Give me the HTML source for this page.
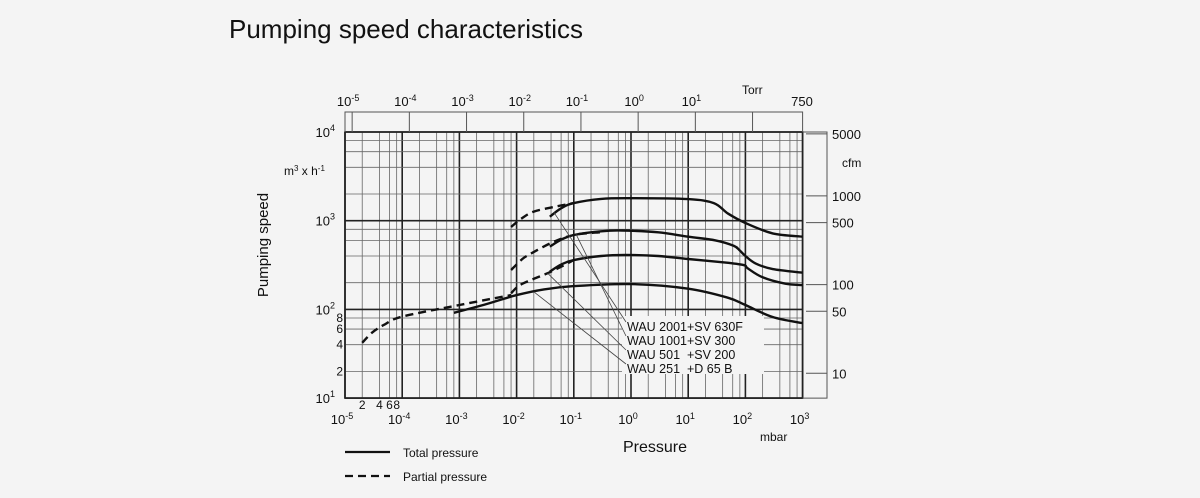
<!DOCTYPE html>
<html><head><meta charset="utf-8"><style>
body{margin:0;background:#f4f4f4;}
svg{display:block;font-family:"Liberation Sans",sans-serif;}
</style></head><body>
<svg width="1200" height="498" viewBox="0 0 1200 498">
<rect x="0" y="0" width="1200" height="498" fill="#f4f4f4"/>
<text x="229" y="38" font-size="26" fill="#111">Pumping speed characteristics</text>
<g id="grid"></g>
<g id="axes"></g>
<g id="series"></g>
<g id="labels"></g>
<text x="268" y="245" font-size="15" transform="rotate(-90 268 245)" text-anchor="middle" fill="#111">Pumping speed</text>
<text x="284" y="175" font-size="12" fill="#111">m<tspan font-size="8" dy="-4">3</tspan><tspan dy="4"> x h</tspan><tspan font-size="8" dy="-4">-1</tspan></text>
<text x="842" y="167" font-size="12" fill="#111">cfm</text>
<text x="742" y="94" font-size="12" fill="#111">Torr</text>
<text x="623" y="452" font-size="16" fill="#111">Pressure</text>
<text x="760" y="441" font-size="12" fill="#111">mbar</text>
<g>
<line x1="345" y1="452" x2="390" y2="452" stroke="#111" stroke-width="2.2"/>
<text x="403" y="457" font-size="12" fill="#111">Total pressure</text>
<line x1="345" y1="476" x2="390" y2="476" stroke="#111" stroke-width="2.2" stroke-dasharray="8,5"/>
<text x="403" y="481" font-size="12" fill="#111">Partial pressure</text>
</g>
</svg>
<script>
const xDecades=[-5,-4,-3,-2,-1,0,1,2,3];
const yDecades=[1,2,3,4];
const torrDecades=[-5,-4,-3,-2,-1,0,1];
const cfmTicks=[5000,1000,500,100,50,10];
const leftMinorLabels=[8,6,4,2];
const bottomMinorLabels=[2,4,6,8];
const seriesNames=["WAU 2001+SV 630F","WAU 1001+SV 300","WAU 501  +SV 200","WAU 251  +D 65 B"];
// total pressure curves [mbar, m3/h]
const total2001=[[0.038,1110],[0.06,1380],[0.1,1580],[0.3,1760],[1,1795],[10,1750],[28,1580],[50,1200],[100,942],[300,720],[1000,660]];
const total1001=[[0.038,510],[0.06,610],[0.1,690],[0.3,760],[0.7,775],[3,740],[10,660],[30,600],[63,520],[80,460],[100,400],[150,330],[300,285],[1000,259]];
const total501=[[0.038,266],[0.06,320],[0.1,360],[0.3,400],[0.8,410],[3,400],[10,370],[50,335],[95,315],[110,290],[200,230],[500,195],[1000,188]];
const total251=[[0.0008,91.5],[0.003,115],[0.01,145],[0.03,168],[0.1,183],[1,193],[10,171],[50,135],[100,112],[300,82],[1000,70]];
// partial pressure curves
const partial2001=[[0.008,850],[0.012,1050],[0.02,1265],[0.05,1450],[0.1,1580]];
const partial1001=[[0.008,278],[0.012,360],[0.016,410],[0.04,560],[0.1,690],[0.29,740]];
const partial501=[[0.008,152],[0.011,185],[0.018,215],[0.04,266],[0.1,360]];
const partial251=[[2e-5,42],[3e-5,55],[5e-5,68],[1e-4,83],[1e-3,112],[0.008,145]];
const ns="http://www.w3.org/2000/svg";
const X0=345,DX=57.2,Y0=132,DY=88.7;
function xs(v){return X0+(Math.log10(v)+5)*DX;}
function ys(v){return Y0+(4-Math.log10(v))*DY;}
function mk(tag,attrs,parent){const e=document.createElementNS(ns,tag);for(const k in attrs)e.setAttribute(k,attrs[k]);parent.appendChild(e);return e;}
const grid=document.getElementById('grid'),axes=document.getElementById('axes'),ser=document.getElementById('series'),lab=document.getElementById('labels');
const XR=xs(1000),YB=ys(10);
xDecades.forEach(d=>{
  const x=xs(Math.pow(10,d));
  const l=mk('line',{x1:x,y1:Y0,x2:x,y2:YB,stroke:'#222','stroke-width':1.6},grid);
  
  
  if(d<3)[2,4,6,8].forEach(m=>{
    const xm=xs(m*Math.pow(10,d));
    const g=mk('line',{x1:xm,y1:Y0,x2:xm,y2:YB,stroke:'#666','stroke-width':0.8},grid);
    
    
  });
});
yDecades.forEach(d=>{
  const y=ys(Math.pow(10,d));
  const l=mk('line',{x1:X0,y1:y,x2:XR,y2:y,stroke:'#222','stroke-width':1.6},grid);
  
  
  if(d<4)[2,4,6,8].forEach(m=>{
    const ym=ys(m*Math.pow(10,d));
    const g=mk('line',{x1:X0,y1:ym,x2:XR,y2:ym,stroke:'#666','stroke-width':0.8},grid);
    
    
  });
});
const frame=mk('rect',{x:X0,y:Y0,width:XR-X0,height:YB-Y0,fill:'none',stroke:'#222','stroke-width':1.6},axes);


const tb=mk('path',{d:`M${X0},${Y0} V112 H${XR} V${Y0}`,fill:'none',stroke:'#555','stroke-width':1},axes);


torrDecades.concat([2]).forEach(d=>{
  const x=xs(Math.pow(10,d)*1.3332);
  const t=mk('line',{x1:x,y1:112,x2:x,y2:Y0,stroke:'#555','stroke-width':1},axes);
  
  
  if(d<2){
    const tx=mk('text',{x:x-4,y:106,'font-size':13,'text-anchor':'middle',fill:'#111'},axes);
    tx.innerHTML='10<tspan font-size="9" dy="-5">'+(d<0?'-'+(-d):d)+'</tspan>';
    
    
  }
});
const t750=mk('text',{x:802,y:106,'font-size':13,'text-anchor':'middle',fill:'#111'},axes);
t750.textContent='750';


const rb=mk('path',{d:`M${XR},${Y0} H827 V${YB} H${XR}`,fill:'none',stroke:'#555','stroke-width':1},axes);


cfmTicks.forEach(c=>{
  const y=ys(c/0.525);
  const t=mk('line',{x1:806,y1:y,x2:827,y2:y,stroke:'#555','stroke-width':1},axes);
  
  
  const tx=mk('text',{x:832,y:y+5,'font-size':13,fill:'#111'},axes);
  tx.textContent=c;
  
  
});
yDecades.forEach(d=>{
  const y=ys(Math.pow(10,d));
  const tx=mk('text',{x:335,y:y+5,'font-size':13,'text-anchor':'end',fill:'#111'},axes);
  tx.innerHTML='10<tspan font-size="9" dy="-6">'+d+'</tspan>';
  
  
});
leftMinorLabels.forEach(m=>{
  const tx=mk('text',{x:343,y:ys(m*10)+4,'font-size':12,'text-anchor':'end',fill:'#111'},axes);
  tx.textContent=m;
  
  
});
xDecades.forEach(d=>{
  const x=xs(Math.pow(10,d));
  const tx=mk('text',{x:x-3,y:424,'font-size':13,'text-anchor':'middle',fill:'#111'},axes);
  tx.innerHTML='10<tspan font-size="9" dy="-5">'+(d<0?'-'+(-d):d)+'</tspan>';
  
  
});
bottomMinorLabels.forEach(m=>{
  const tx=mk('text',{x:xs(m*1e-5),y:409,'font-size':12,'text-anchor':'middle',fill:'#111'},axes);
  tx.textContent=m;
  
  
});
const box=mk('rect',{x:622,y:316,width:142,height:58,fill:'#f4f4f4'},lab);


const leaderTargets=[[0.045,1240],[0.11,700],[0.035,255],[0.02,158]];
const curvesTotal=[total2001,total1001,total501,total251];
const curvesPartial=[partial2001,partial1001,partial501,partial251];
function smooth(pts){
  const P=pts.map(p=>[xs(p[0]),ys(p[1])]);
  let d='M'+P[0][0].toFixed(1)+','+P[0][1].toFixed(1);
  for(let i=0;i<P.length-1;i++){
    const p0=P[i-1]||P[i],p1=P[i],p2=P[i+1],p3=P[i+2]||p2;
    const c1=[p1[0]+(p2[0]-p0[0])/6,p1[1]+(p2[1]-p0[1])/6],c2=[p2[0]-(p3[0]-p1[0])/6,p2[1]-(p3[1]-p1[1])/6];
    d+=` C${c1[0].toFixed(1)},${c1[1].toFixed(1)} ${c2[0].toFixed(1)},${c2[1].toFixed(1)} ${p2[0].toFixed(1)},${p2[1].toFixed(1)}`;
  }
  return d;
}
seriesNames.forEach((n,i)=>{
  const ly=322+i*14;
  const ln=mk('line',{x1:626,y1:ly,x2:xs(leaderTargets[i][0]),y2:ys(leaderTargets[i][1]),stroke:'#444','stroke-width':0.8},lab);
  
  
  const tx=mk('text',{x:627,y:ly+9,'font-size':12.5,fill:'#111',style:'white-space:pre'},lab);
  tx.textContent=n;
  
  
});
curvesTotal.forEach(c=>{
  const p=mk('path',{d:smooth(c),fill:'none',stroke:'#111','stroke-width':2.4},ser);
  
  
});
curvesPartial.forEach(c=>{
  const p=mk('path',{d:smooth(c),fill:'none',stroke:'#111','stroke-width':2.4,'stroke-dasharray':'8,5'},ser);
  
  
});
</script>
</body></html>
